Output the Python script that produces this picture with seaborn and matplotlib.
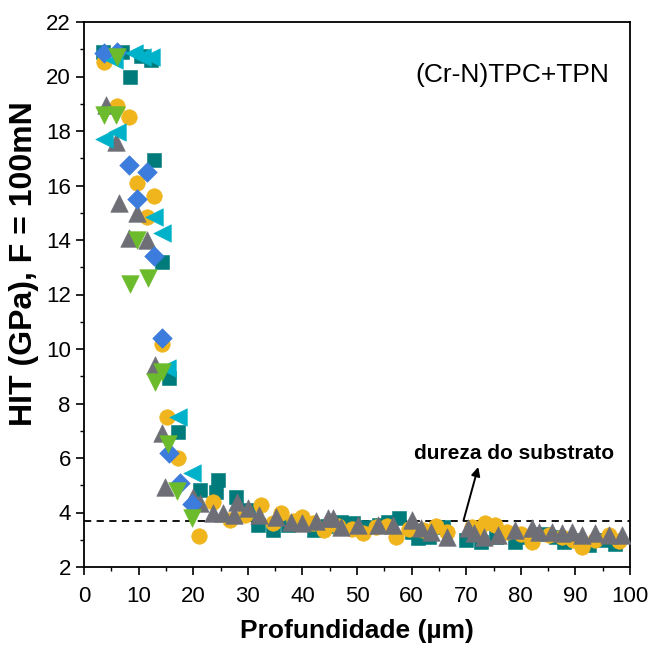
import numpy as np
import pandas as pd
import matplotlib
matplotlib.use("Agg")
import matplotlib.pyplot as plt
import seaborn as sns
from matplotlib.ticker import MultipleLocator

# ---------------- data ----------------
teal_x = [3.5, 7.0, 8.5, 10.5, 12.2, 12.8, 14.3, 15.5, 17.3,
          21.3, 24.1, 24.6, 27.8, 30.0, 31.8, 34.6, 37.3, 39.7, 42.1, 44.5, 47.0,
          49.3, 51.3, 54.0, 55.7, 57.7, 60.0, 61.2, 63.2, 65.8, 70.0, 72.8, 75.5,
          78.9, 81.4, 84.0, 86.5, 87.9, 90.3, 92.5, 95.0, 97.2]
teal_y = [20.9, 20.9, 20.0, 20.75, 20.6, 16.95, 13.2, 8.95, 6.95,
          4.83, 4.75, 5.2, 4.57, 4.1, 3.54, 3.36, 3.54, 3.65, 3.36, 3.5, 3.65,
          3.6, 3.47, 3.54, 3.65, 3.8, 3.3, 3.06, 3.1, 3.47, 3.0, 2.9, 3.1,
          2.92, 3.1, 3.2, 3.1, 2.9, 3.0, 2.8, 3.0, 2.85]

yellow_x = [3.7, 6.0, 8.3, 9.7, 12.9, 11.6, 14.3, 15.2, 17.3, 21.1,
            23.7, 26.8, 29.5, 32.4, 34.7, 36.0, 38.5, 40.0, 42.0, 43.9, 46.5,
            49.0, 51.1, 53.5, 55.5, 57.2, 59.5, 62.0, 64.5, 66.5, 71.0, 72.2,
            73.5, 75.2, 77.5, 80.0, 82.0, 85.1, 87.5, 89.5, 91.2, 93.5, 96.1, 98.0]
yellow_y = [20.55, 18.9, 18.5, 16.1, 15.6, 14.85, 10.2, 7.5, 6.0, 3.15,
            4.4, 3.72, 3.9, 4.27, 3.6, 4.0, 3.7, 3.83, 3.6, 3.36, 3.5,
            3.4, 3.25, 3.45, 3.5, 3.1, 3.4, 3.35, 3.5, 3.3, 3.45, 3.36,
            3.6, 3.54, 3.3, 3.2, 2.9, 3.17, 3.1, 3.0, 2.73, 3.0, 3.17, 2.95]

gray_x = [4.0, 5.9, 6.4, 8.3, 9.7, 11.6, 13.0, 14.3, 14.9, 19.9, 21.3,
          23.7, 25.4, 27.4, 28.1, 30.1, 32.0, 35.1, 37.9, 40.0, 42.5, 44.7,
          45.6, 47.1, 50.2, 53.9, 56.6, 60.0, 61.8, 63.6, 66.4, 70.4, 71.5,
          73.3, 75.9, 78.9, 82.0, 83.3, 85.7, 87.5, 89.3, 91.2, 93.6, 96.1, 98.5]
gray_y = [18.95, 17.6, 15.35, 14.07, 15.0, 14.0, 9.4, 6.9, 4.95, 4.57, 4.35,
          3.98, 4.0, 3.9, 4.39, 4.16, 3.9, 3.83, 3.65, 3.6, 3.7, 3.8,
          3.8, 3.47, 3.54, 3.54, 3.54, 3.72, 3.43, 3.28, 3.1, 3.43, 3.25,
          3.1, 3.17, 3.36, 3.43, 3.28, 3.28, 3.25, 3.28, 3.17, 3.25, 3.17, 3.17]

blue_x = [3.7, 6.0, 8.3, 11.6, 9.7, 12.9, 14.3, 15.5, 17.6, 19.8]
blue_y = [20.86, 20.9, 16.75, 16.5, 15.5, 13.4, 10.4, 6.2, 5.1, 4.3]

cyan_x = [5.5, 9.2, 10.7, 12.3, 6.0, 3.7, 12.9, 14.2, 15.2, 17.3, 19.8]
cyan_y = [20.6, 20.86, 20.7, 20.7, 17.96, 17.7, 14.85, 14.25, 9.3, 7.5, 5.45]

green_x = [6.1, 3.7, 5.9, 9.7, 8.5, 11.8, 13.0, 14.3, 15.3, 17.1, 19.8]
green_y = [20.7, 18.6, 18.6, 14.0, 12.4, 12.6, 8.8, 9.15, 6.5, 4.8, 3.8]

substrate_hardness = 3.7
annotation_text = "dureza do substrato"
sample_label = "(Cr-N)TPC+TPN"
x_label = "Profundidade (µm)"
y_label = "HIT (GPa), F = 100mN"

# ---------------- style ----------------
sns.set_style("ticks")
plt.rcParams['font.family'] = ['Liberation Sans', 'DejaVu Sans']
for key in ['text.color', 'axes.labelcolor', 'xtick.color', 'ytick.color',
            'axes.edgecolor']:
    plt.rcParams[key] = 'black'
plt.rcParams['xtick.major.size'] = 6
plt.rcParams['ytick.major.size'] = 6
plt.rcParams['xtick.minor.size'] = 3
plt.rcParams['ytick.minor.size'] = 3
plt.rcParams['xtick.major.width'] = 1.2
plt.rcParams['ytick.major.width'] = 1.2
plt.rcParams['xtick.minor.width'] = 1.0
plt.rcParams['ytick.minor.width'] = 1.0

fig = plt.figure(figsize=(6.51, 6.48), dpi=100)
ax = fig.add_axes([84/651, 1-567/648, (630-84)/651, (567-22)/648])

series = [
    (teal_x, teal_y, "s", "#007B7C", 105),
    (yellow_x, yellow_y, "o", "#F0B41C", 125),
    (gray_x, gray_y, "^", "#6E6E76", 160),
    (blue_x, blue_y, "D", "#3C7CDC", 100),
    (cyan_x, cyan_y, "<", "#00B2C9", 160),
    (green_x, green_y, "v", "#6CBB2C", 160),
]
for xs, ys, mk, col, size in series:
    df = pd.DataFrame({"x": xs, "y": ys})
    sns.scatterplot(data=df, x="x", y="y", marker=mk, color=col, s=size,
                    edgecolor=col, linewidth=0.4, ax=ax, legend=False, zorder=3)

ax.axhline(substrate_hardness, color="black", linestyle=(0, (4, 3)), linewidth=1.3, zorder=2)

# arrow from the dashed line up towards the label
ax.annotate("", xy=(72.2, 5.67), xytext=(69.5, substrate_hardness),
            arrowprops=dict(arrowstyle="-|>", color="black", lw=1.4,
                            mutation_scale=13, shrinkA=0, shrinkB=0),
            zorder=4)
ax.text(78.7, 6.18, annotation_text, ha="center", va="center",
        fontsize=15, fontweight="bold", zorder=4)
ax.text(78.5, 20.05, sample_label, ha="center", va="center", fontsize=19)

ax.set_xlim(0, 100)
ax.set_ylim(2, 22)
ax.xaxis.set_major_locator(MultipleLocator(10))
ax.xaxis.set_minor_locator(MultipleLocator(5))
ax.yaxis.set_major_locator(MultipleLocator(2))
ax.yaxis.set_minor_locator(MultipleLocator(1))
ax.tick_params(axis="both", which="both", direction="out", labelsize=16,
               top=False, right=False, colors="black")
ax.tick_params(axis="x", which="major", pad=8)
for sp in ax.spines.values():
    sp.set_visible(True)
    sp.set_linewidth(1.3)
    sp.set_color("black")

ax.set_xlabel(x_label, fontsize=19, fontweight="bold", labelpad=8)
ax.set_ylabel(y_label, fontsize=23, fontweight="bold")
ax.yaxis.set_label_coords(-0.083, 0.557)

fig.savefig("out.png", dpi=100)
